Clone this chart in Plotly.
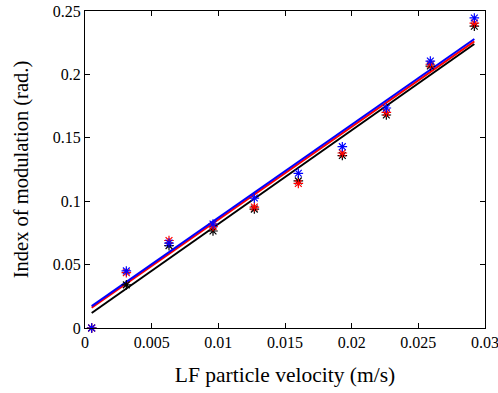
import plotly.graph_objects as go

velocity = [0.0005, 0.0031, 0.0063, 0.0096, 0.0127, 0.0160, 0.0193, 0.0226, 0.0259, 0.0292]
mod_blue = [0.0, 0.045, 0.067, 0.082, 0.1025, 0.122, 0.143, 0.1735, 0.2105, 0.2445]
mod_red = [0.0, 0.0436, 0.069, 0.080, 0.0954, 0.114, 0.138, 0.170, 0.208, 0.2405]
mod_black = [0.0, 0.034, 0.065, 0.0765, 0.0938, 0.116, 0.136, 0.168, 0.2066, 0.238]

fit_x = [0.0005, 0.0292]
fit_blue = [0.0173, 0.2279]
fit_red = [0.0160, 0.2260]
fit_black = [0.0118, 0.2240]

fig = go.Figure()
for fy, col in [(fit_black, "black"), (fit_red, "red"), (fit_blue, "blue")]:
    fig.add_trace(go.Scatter(x=fit_x, y=fy, mode="lines",
                             line=dict(color=col, width=2), showlegend=False))
for my, col in [(mod_black, "black"), (mod_red, "red"), (mod_blue, "blue")]:
    fig.add_trace(go.Scatter(x=velocity, y=my, mode="markers",
                             marker=dict(symbol="asterisk-open", size=8, color=col,
                                         line=dict(color=col, width=1.2)),
                             showlegend=False, cliponaxis=False))

font = dict(family="Liberation Serif, Times New Roman, serif", color="black")
axis_common = dict(showgrid=False, zeroline=False, showline=True, linecolor="black",
                   linewidth=1, mirror="ticks", ticks="inside", ticklen=5,
                   tickcolor="black", tickfont=dict(size=16, **font),
                   ticklabeloverflow="allow", automargin=False)
fig.update_layout(
    width=498, height=393,
    margin=dict(l=85, r=13, t=11, b=65),
    plot_bgcolor="white", paper_bgcolor="white",
    xaxis=dict(range=[0, 0.0300001], tickvals=[0, 0.005, 0.01, 0.015, 0.02, 0.025, 0.03],
               ticktext=["0", "0.005", "0.01", "0.015", "0.02", "0.025", "0.03"],
               title=dict(text="LF particle velocity (m/s)", font=dict(size=21.5, **font), standoff=16),
               **axis_common),
    yaxis=dict(range=[0, 0.25], tickvals=[0, 0.05, 0.1, 0.15, 0.2, 0.25],
               ticktext=["0", "0.05", "0.1", "0.15", "0.2", "0.25"],
               title=dict(text="Index of modulation (rad.)", font=dict(size=20.5, **font), standoff=18),
               **axis_common),
)
fig.write_html("out.html")
